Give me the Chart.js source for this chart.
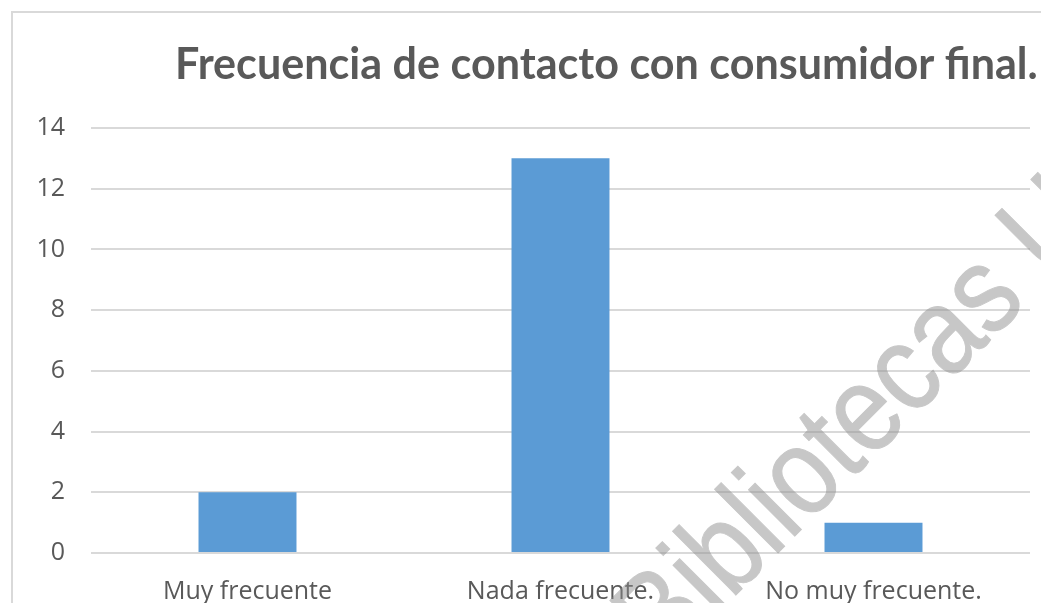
<!DOCTYPE html>
<html>
<head>
<meta charset="utf-8">
<script src="https://cdn.jsdelivr.net/npm/chart.js@4/dist/chart.umd.min.js"></script>
<style>
  html, body { margin: 0; padding: 0; background: #fff; }
  #wrap { width: 1041px; height: 603px; position: relative; overflow: hidden; }
</style>
</head>
<body>
<div id="wrap"><canvas id="frecuencia" width="1041" height="603"></canvas></div>
<script>
//----------------------
// Data
//----------------------

const categories = ['Muy frecuente', 'Nada frecuente.', 'No muy frecuente.'];
const counts = [2, 13, 1];
const yMin = 0;
const yMax = 14;
const yStep = 2;

const titleText = 'Frecuencia de contacto con consumidor final.';
const watermarkText = 'Bibliotecas U';

const grey = '#595959';
const gridGrey = '#d9d9d9';
const barBlue = '#5b9bd5';

//----------------------
// Plugins: frame, title and watermark
//----------------------

const framePlugin = {
    id: 'frame',
    beforeDraw(chart) {
        const c = chart.ctx;
        c.save();
        c.fillStyle = '#fff';
        c.fillRect(0, 0, chart.width, chart.height);
        c.strokeStyle = gridGrey;
        c.lineWidth = 2;
        c.strokeRect(12, 12, chart.width + 40, chart.height + 40);
        c.restore();
    }
};

const titlePlugin = {
    id: 'excelTitle',
    afterDraw(chart) {
        const c = chart.ctx;
        c.save();
        // fit the bold title to the width it takes in the picture
        let size = 40;
        c.font = 'bold ' + size + 'px Lato';
        const w = c.measureText(titleText).width;
        size = size * 862 / w;
        c.font = 'bold ' + size.toFixed(1) + 'px Lato';
        c.fillStyle = grey;
        c.textAlign = 'left';
        c.textBaseline = 'alphabetic';
        c.fillText(titleText, 175, 79);
        c.restore();
    }
};

const watermarkPlugin = {
    id: 'watermark',
    afterDraw(chart) {
        // draw the text solid on a layer, then lay it over the chart half transparent
        const layer = document.createElement('canvas');
        layer.width = chart.width;
        layer.height = chart.height;
        const l = layer.getContext('2d');
        l.translate(664, 667);
        l.rotate(-45 * Math.PI / 180);
        l.scale(0.86, 1);
        l.font = '124px "Liberation Sans"';
        l.textBaseline = 'alphabetic';
        l.fillStyle = '#8c8c8c';
        l.strokeStyle = '#8c8c8c';
        l.lineWidth = 1;
        l.strokeText(watermarkText, 0, 0);
        l.fillText(watermarkText, 0, 0);

        const c = chart.ctx;
        c.save();
        c.globalAlpha = 0.48;
        c.drawImage(layer, 0, 0);
        c.restore();
    }
};

//----------------------
// Chart
//----------------------

const ctx = document.getElementById('frecuencia').getContext('2d');
const chart = new Chart(ctx, {
    type: 'bar',
    data: {
        labels: categories,
        datasets: [{
            label: 'Frecuencia',
            data: counts,
            backgroundColor: barBlue,
            borderWidth: 0,
            categoryPercentage: 1,
            barPercentage: 0.313
        }]
    },
    options: {
        responsive: false,
        animation: false,
        layout: { padding: { left: 12, right: 11, top: 128, bottom: 0 } },
        plugins: {
            legend: { display: false },
            title: { display: false },
            tooltip: { enabled: false }
        },
        scales: {
            x: {
                grid: { display: false, drawTicks: false },
                border: { display: false },
                ticks: {
                    color: grey,
                    padding: 24,
                    maxRotation: 0,
                    font: { family: 'Open Sans', size: 25 }
                },
                afterFit(scale) { scale.height = 50; }
            },
            y: {
                min: yMin,
                max: yMax,
                grid: { color: gridGrey, lineWidth: 2, drawTicks: false },
                border: { display: false },
                ticks: {
                    stepSize: yStep,
                    color: grey,
                    padding: 26,
                    font: { family: 'Open Sans', size: 25 }
                },
                afterFit(scale) { scale.width = 79; }
            }
        }
    },
    plugins: [framePlugin, titlePlugin, watermarkPlugin]
});
</script>
</body>
</html>
